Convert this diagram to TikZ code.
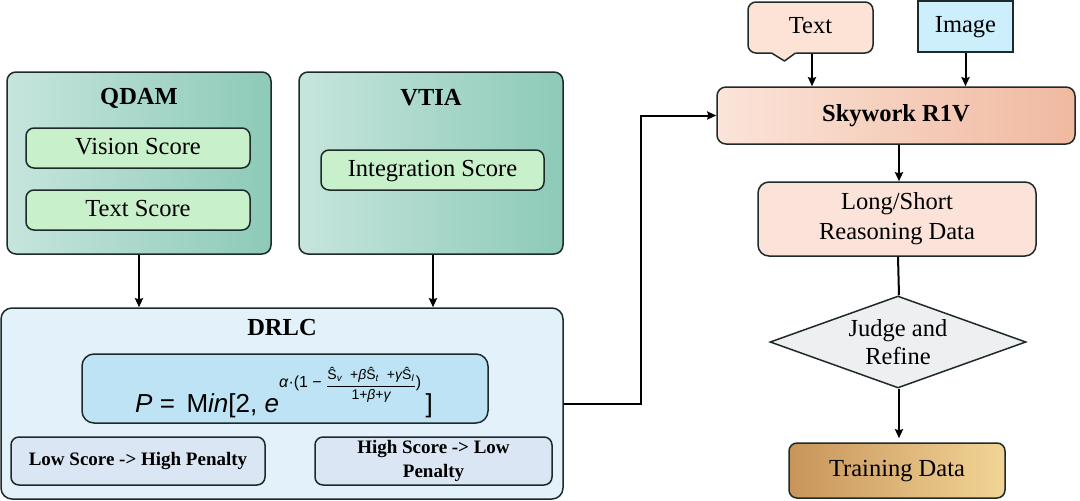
\documentclass[tikz,border=0pt]{standalone}
\usepackage{amsmath}
\usepackage{fontspec}
\setmainfont{Liberation Serif}
\newfontfamily\fsans{Liberation Sans}
\usetikzlibrary{arrows.meta,shapes.geometric,calc}
\definecolor{bord}{HTML}{1E2A2A}
\definecolor{qdamL}{HTML}{C6E5DD}
\definecolor{qdamR}{HTML}{8DCAB7}
\definecolor{scorefill}{HTML}{C8F0CB}
\definecolor{drlcfill}{HTML}{E3F2FA}
\definecolor{fmlfill}{HTML}{BEE3F4}
\definecolor{penfill}{HTML}{DAE6F3}
\definecolor{skyL}{HTML}{FBE4D9}
\definecolor{skyR}{HTML}{F0B9A0}
\definecolor{txtfill}{HTML}{FCE3D6}
\definecolor{imgfill}{HTML}{CDEFFB}
\definecolor{lsfill}{HTML}{FCE3D9}
\definecolor{judgefill}{HTML}{EEEFF1}
\definecolor{trainL}{HTML}{C8945A}
\definecolor{trainR}{HTML}{F2D596}
\tikzset{
  box/.style={draw=bord, line width=1.5pt, rounded corners=9pt, inner sep=0pt, align=center,
              font=\fontsize{24.5}{30}\selectfont},
  oneline/.style={text height=17pt, text depth=5pt},
  modbox/.style={box, left color=qdamL, right color=qdamR},
  scorebox/.style={box, oneline, fill=scorefill, minimum height=40pt, rounded corners=8pt},
  penbox/.style={box, fill=penfill, minimum height=48pt, rounded corners=8pt,
                 font=\fontsize{19}{24}\selectfont\bfseries},
  title/.style={font=\fontsize{24.5}{30}\selectfont\bfseries, inner sep=0pt},
  conn/.style={draw=black, line width=2pt},
  arr/.style={conn, -{Stealth[length=9pt,width=8pt,inset=1pt]}}
}
\begin{document}
\begin{tikzpicture}[x=1pt,y=-1pt]
\useasboundingbox (0,0) rectangle (1080,501);
% left modules
\node[modbox, minimum width=264pt, minimum height=182pt] (qdam) at (139,163) {};
\node[title] (qdamt) at (139,98) {QDAM};
\node[scorebox, minimum width=224pt] (vis) at (138,148) {Vision Score};
\node[scorebox, minimum width=224pt] (txs) at (138,210) {Text Score};
\node[modbox, minimum width=264pt, minimum height=182pt] (vtia) at (431,163) {};
\node[title] (vtiat) at (431,98) {VTIA};
\node[scorebox, minimum width=223pt] (integ) at (432.5,170) {Integration Score};
% DRLC
\node[box, fill=drlcfill, minimum width=562pt, minimum height=191pt, rounded corners=11pt] (drlc) at (282,403.5) {};
\node[title] (drlct) at (282,328) {DRLC};
\node[box, fill=fmlfill, minimum width=406pt, minimum height=69pt, rounded corners=12pt] (fml) at (285,388.5) {};
\node[anchor=base, inner sep=0pt] (fmltext) at (284,412) {\fsans\fontsize{26}{30}\selectfont
  \textit{P} = \,M\textit{in}[2, \textit{e}\raisebox{25pt}{\fontsize{16}{18}\selectfont\textit{α}·(1 −\ }\raisebox{22.5pt}{\fontsize{14}{16}\selectfont$\displaystyle\frac{\text{Ŝ}_{\textit{v}}\;\;\text{+}\textit{β}\text{Ŝ}_{\textit{t}}\;\;\text{+}\textit{γ}\text{Ŝ}_{\textit{I}}}{\text{1+}\textit{β}\text{+}\textit{γ}}$}\raisebox{25pt}{\fontsize{16}{18}\selectfont)}\,]};
\node[penbox, minimum width=254pt] (low) at (138,461) {Low Score -> High Penalty};
\node[penbox, minimum width=237pt] (high) at (433.5,461) {High Score -> Low\\Penalty};
% right pipeline
\node[box, oneline, left color=skyL, right color=skyR, minimum width=358pt, minimum height=57pt, font=\fontsize{24.5}{30}\selectfont\bfseries] (sky) at (896,115.5) {Skywork R1V};
\node[box, oneline, fill=txtfill, minimum width=125pt, minimum height=51pt, rounded corners=8pt] (txt) at (810.5,27.5) {Text};
\fill[txtfill] (770.5,50.5) -- (797,50.5) -- (795.5,53) -- (785,61) -- (772,53) -- cycle;
\draw[draw=bord, line width=1.5pt, line join=round] (771.5,53) -- (784.5,61) -- (795.5,53);
\node[box, oneline, fill=imgfill, rounded corners=0pt, minimum width=95pt, minimum height=51pt] (img) at (965.5,26.5) {Image};
\node[box, fill=lsfill, minimum width=278pt, minimum height=74pt, rounded corners=11pt] (ls) at (897,219) {Long/Short\\Reasoning Data};
\node[draw=bord, line width=1.5pt, diamond, aspect=2.78, inner sep=0pt, fill=judgefill, minimum width=256pt, minimum height=92pt, align=center, font=\fontsize{24.5}{28}\selectfont] (judge) at (898,342) {Judge and\\Refine};
\node[box, oneline, left color=trainL, right color=trainR, minimum width=216pt, minimum height=55pt, rounded corners=8pt] (train) at (897,470.5) {Training Data};
% connectors
\draw[arr] (qdam.south) -- (qdam.south |- drlc.north);
\draw[arr] ($(vtia.south)+(2,0)$) -- ($(vtia.south |- drlc.north)+(2,0)$);
\draw[arr] (drlc.east) -- ++(77,0) |- (sky.west);
\draw[arr] ($(txt.south)+(1.5,0)$) -- ($(txt.south |- sky.north)+(1.5,0)$);
\draw[arr] (img.south) -- (img.south |- sky.north);
\draw[arr] ($(sky.south)+(3,0)$) -- ($(sky.south |- ls.north)+(3,0)$);
\draw[conn] ($(ls.south)+(1,0)$) -- ($(judge.north)+(1,0)$);
\draw[arr, shorten >=4pt] ($(judge.south)+(1,0)$) -- ($(judge.south |- train.north)+(1,0)$);
\end{tikzpicture}
\end{document}
